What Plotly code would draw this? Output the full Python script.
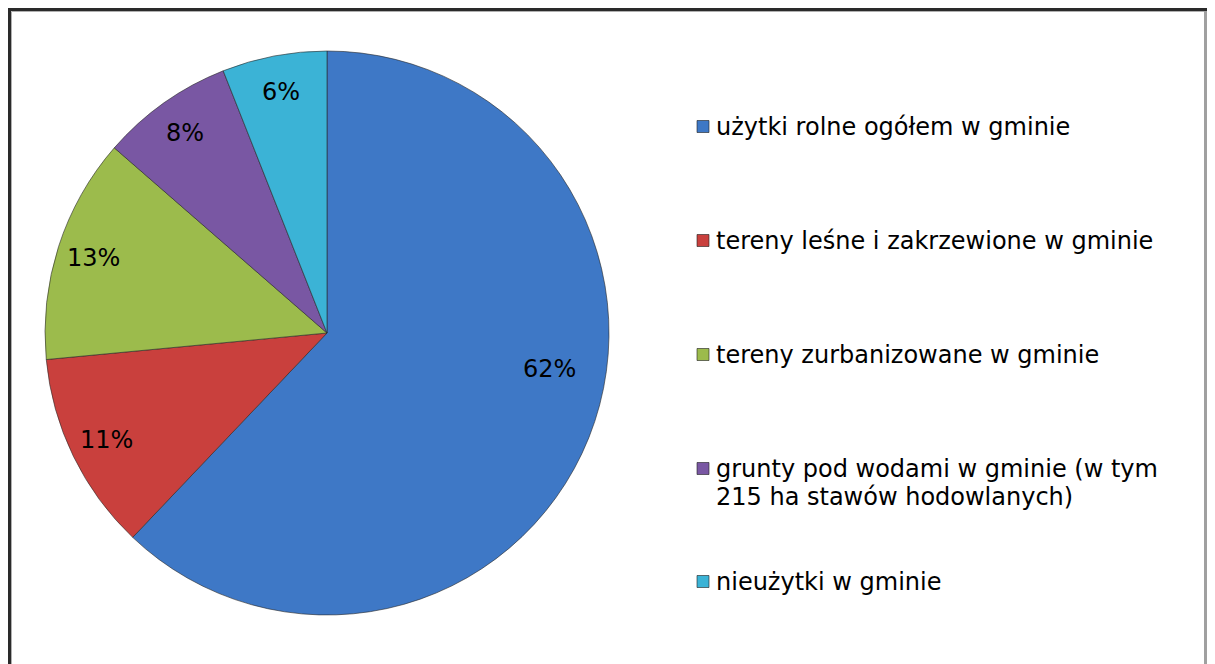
import math
import plotly.graph_objects as go

labels = [
    "użytki rolne ogółem w gminie",
    "tereny leśne i zakrzewione w gminie",
    "tereny zurbanizowane w gminie",
    "grunty pod wodami w gminie (w tym<br>215 ha stawów hodowlanych)",
    "nieużytki w gminie",
]
values = [62.1, 11.4, 12.9, 7.6, 6.0]
colors = ["#3e78c6", "#c9403d", "#9cbb4c", "#7957a3", "#3bb3d6"]

# the page body has an 8px margin; lay out in screen pixels and shift
OFF = 8
W, H = 1215 - 2 * OFF, 664 - OFF
FONT = "DejaVu Sans, Verdana, sans-serif"
FS = 24
LINE = 28

def px(x):
    return (x - OFF) / W

def py(y):
    return 1 - (y - OFF) / H

CX, CY, R = 327, 333, 282

fig = go.Figure()
fig.add_trace(go.Pie(
    labels=labels,
    values=values,
    sort=False,
    direction="clockwise",
    rotation=0,
    marker=dict(colors=colors, line=dict(color="rgba(40,40,40,0.75)", width=0.8)),
    textposition="none",
    domain=dict(x=[px(CX - R), px(CX + R)], y=[py(CY + R), py(CY - R)]),
    showlegend=False,
    hoverinfo="label+percent",
))

annotations = []
shapes = []

# percentage labels at the slice mid-angles
total = sum(values)
cum = 0.0
for v in values:
    mid = (cum + v / 2) / total * 2 * math.pi
    cum += v
    if v / total >= 0.5:
        x, y = CX + 0.79 * R, CY + 36
    else:
        x = CX + 0.87 * R * math.sin(mid)
        y = CY - 0.87 * R * math.cos(mid)
    annotations.append(dict(xref="paper", yref="paper", x=px(x), y=py(y),
                            xanchor="center", yanchor="middle", showarrow=False,
                            text=f"{round(v / total * 100):d}%",
                            font=dict(family=FONT, size=FS, color="black")))

# manual legend
legend_y = [126.5, 240.5, 354.5, 468.5, 581.5]
for lab, col, yc in zip(labels, colors, legend_y):
    shapes.append(dict(type="rect", xref="paper", yref="paper",
                       x0=px(697), x1=px(709), y0=py(yc + 6), y1=py(yc - 6),
                       fillcolor=col, line=dict(color="rgba(30,30,30,0.6)", width=1)))
    for i, line in enumerate(lab.split("<br>")):
        annotations.append(dict(xref="paper", yref="paper", x=px(714), y=py(yc + i * LINE),
                                xanchor="left", yanchor="middle", text=line, showarrow=False,
                                align="left", font=dict(family=FONT, size=FS, color="black")))

# frame
RIGHT = min(1211.5, OFF + W - 1.5)
shapes += [
    dict(type="line", xref="paper", yref="paper", x0=px(RIGHT), x1=px(RIGHT), y0=py(8), y1=py(720),
         line=dict(color="#a0a0a0", width=3)),
    dict(type="line", xref="paper", yref="paper", x0=px(8), x1=px(RIGHT + 1.5), y0=py(9.5), y1=py(9.5),
         line=dict(color="#2a2a2a", width=3)),
    dict(type="line", xref="paper", yref="paper", x0=px(9.5), x1=px(9.5), y0=py(8), y1=py(720),
         line=dict(color="#2a2a2a", width=3)),
    dict(type="line", xref="paper", yref="paper", x0=px(11.5), x1=px(RIGHT - 1.5), y0=py(11.5), y1=py(11.5),
         line=dict(color="#b0b0b0", width=1)),
    dict(type="line", xref="paper", yref="paper", x0=px(11.5), x1=px(11.5), y0=py(11.5), y1=py(720),
         line=dict(color="#b0b0b0", width=1)),
]

fig.update_layout(
    width=W, height=H,
    margin=dict(l=0, r=0, t=0, b=0),
    paper_bgcolor="white",
    plot_bgcolor="white",
    shapes=shapes,
    annotations=annotations,
    font=dict(family=FONT, size=FS, color="black"),
)

fig.write_html("out.html")
